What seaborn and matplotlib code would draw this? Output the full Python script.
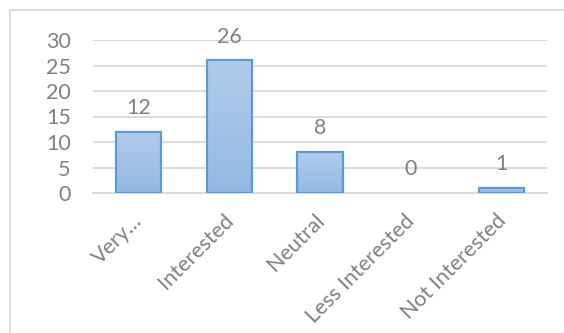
import seaborn as sns
import matplotlib.pyplot as plt
import matplotlib.patches as mpatches
import matplotlib.transforms as mtransforms
from matplotlib.colors import LinearSegmentedColormap
import numpy as np
import pandas as pd

# Data
categories = ['Very…', 'Interested', 'Neutral', 'Less Interested', 'Not Interested']
counts = [12, 26, 8, 0, 1]
y_ticks = [0, 5, 10, 15, 20, 25, 30]

df = pd.DataFrame({'Interest': categories, 'Count': counts})

sns.set_theme(style="white")
plt.rcParams['font.family'] = ['Lato', 'DejaVu Sans']

text_color = '#808080'
grid_color = '#d9d9d9'
fs = 15.5

fig = plt.figure(figsize=(5.64, 3.33), dpi=100)
ax = fig.add_axes([93 / 564, 1 - 193 / 333, (547 - 93) / 564, (193 - 40) / 333])

sns.barplot(data=df, x='Interest', y='Count', color='#a7c2e6', width=0.5,
            edgecolor='#5b9bd5', linewidth=1.6, ax=ax, zorder=3)

ax.set_ylim(0, 30)
ax.set_xlim(-0.5, len(categories) - 0.5)

# light vertical gradient inside each bar, like the spreadsheet style
grad_cmap = LinearSegmentedColormap.from_list('bar', ['#94b8e3', '#b3cbea'])
grad = np.linspace(0, 1, 100).reshape(-1, 1)
for p in ax.patches:
    if p.get_height() == 0:
        p.set_visible(False)
        continue
    p.set_alpha(1)
    x0, y0 = p.get_x(), p.get_y()
    im = ax.imshow(grad, cmap=grad_cmap, origin='lower', aspect='auto',
                   extent=[x0, x0 + p.get_width(), y0, y0 + p.get_height()],
                   zorder=2.9)
    im.set_clip_path(p)
    p.set_facecolor('none')

ax.set_ylim(0, 30)
ax.set_xlim(-0.5, len(categories) - 0.5)
ax.set_yticks(y_ticks)
ax.yaxis.grid(True, color=grid_color, linewidth=1.3, zorder=0)
ax.set_axisbelow(True)
for s in ['top', 'right', 'left']:
    ax.spines[s].set_visible(False)
ax.spines['bottom'].set_color(grid_color)
ax.spines['bottom'].set_linewidth(1.3)
ax.tick_params(axis='both', length=0, colors=text_color, labelsize=fs)
ax.tick_params(axis='y', pad=16)
ax.tick_params(axis='x', pad=4)
shift = mtransforms.ScaledTranslation(-6 / 100, -12 / 100, fig.dpi_scale_trans)
for lbl in ax.get_xticklabels():
    lbl.set_rotation(45)
    lbl.set_ha('right')
    lbl.set_va('top')
    lbl.set_rotation_mode('anchor')
    lbl.set_transform(lbl.get_transform() + shift)
ax.set_xlabel('')
ax.set_ylabel('')

# data labels
for i, v in enumerate(counts):
    ax.annotate(str(v), (i, v), xytext=(0, 10), textcoords='offset points',
                ha='center', va='bottom', color=text_color, fontsize=fs)

# outer chart border (cropped at right and bottom)
fig.patches.append(mpatches.Rectangle((10 / 564, -0.1), 1.2, 0.1 + (1 - 10 / 333),
                                      transform=fig.transFigure, fill=False,
                                      edgecolor=grid_color, linewidth=1.3))

fig.savefig('out.png', dpi=100)
